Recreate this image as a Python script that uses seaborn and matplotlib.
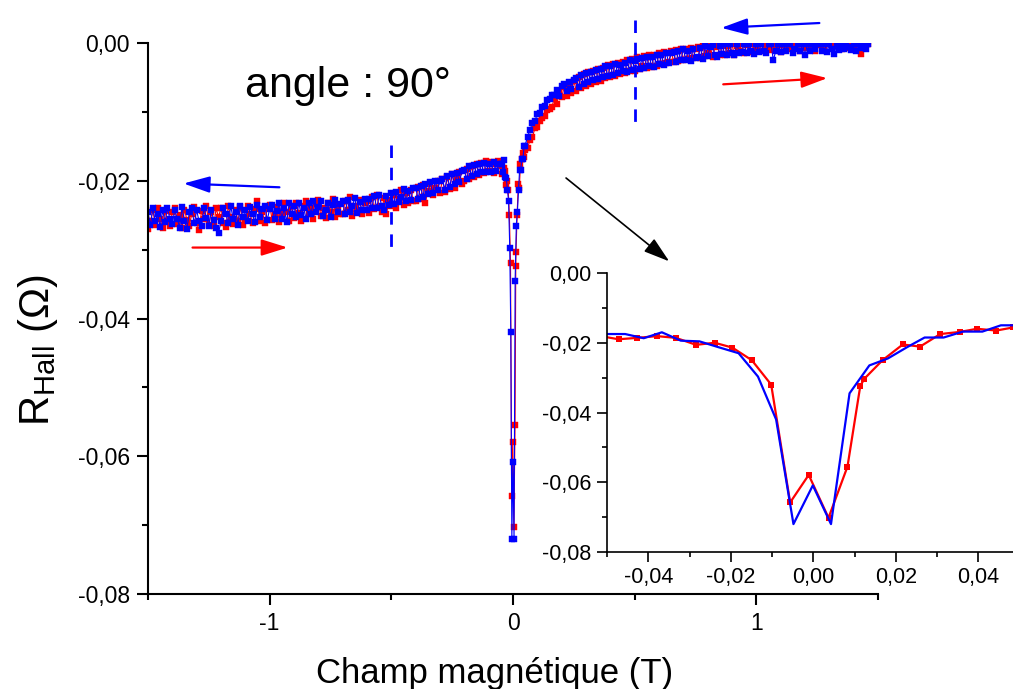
import numpy as np
import matplotlib
matplotlib.use("Agg")
import matplotlib.pyplot as plt
from matplotlib.ticker import MultipleLocator, FuncFormatter
import seaborn as sns

# ---------------- data (R_Hall in mOhm, field in T) ----------------
FIELD_STEP = 0.01
NEG_START = -1.50
POS_START = 0.06

red_neg = [
    -27.0, -25.9, -24.3, -26.4, -24.0, -25.6, -26.8, -24.4, -25.8, -26.6,
    -24.5, -23.9, -26.3, -25.0, -26.9, -24.2, -25.7, -26.5, -24.8, -23.8,
    -26.2, -27.1, -24.4, -25.6, -23.7, -26.4, -24.6, -26.6, -24.0, -25.3,
    -23.9, -26.1, -26.7, -23.6, -25.3, -26.3, -24.3, -25.8, -23.8, -26.4,
    -25.6, -23.6, -24.9, -26.2, -24.1, -22.9, -25.8, -24.5, -26.1, -23.9,
    -23.5, -25.7, -24.9, -23.8, -26.0, -24.8, -23.3, -24.6, -25.9, -23.7,
    -25.4, -23.3, -24.7, -25.8, -23.6, -22.9, -24.9, -24.0, -25.6, -23.4,
    -22.8, -25.1, -23.9, -25.4, -23.2, -24.5, -22.6, -25.2, -23.7, -24.8,
    -24.9, -22.9, -24.3, -22.3, -25.1, -23.6, -24.6, -22.8, -24.9, -23.3,
    -23.0, -24.7, -22.4, -24.1, -22.0, -23.8, -24.6, -22.5, -24.9, -22.8,
    -23.6, -22.0, -24.0, -22.6, -21.4, -23.5, -21.8, -23.2, -21.3, -22.9,
    -22.9, -20.9, -22.6, -20.6, -23.2, -21.5, -20.4, -22.1, -21.0, -20.0,
    -21.8, -19.8, -21.6, -19.5, -21.2, -19.0, -21.1, -19.6, -18.8, -20.5,
    -20.1, -18.3, -19.8, -17.9, -19.4, -17.6, -19.1, -17.4, -18.9, -17.2,
    -18.6, -17.3, -18.9, -17.6, -17.1,
]
blue_neg = [
    -24.6, -26.4, -24.0, -25.9, -24.8, -26.7, -24.3, -26.0, -23.9, -25.6,
    -26.3, -24.2, -25.5, -26.8, -23.8, -25.9, -27.0, -24.6, -24.0, -26.2,
    -24.3, -25.9, -26.6, -23.9, -25.4, -26.5, -24.2, -25.7, -26.8, -27.6,
    -25.8, -24.0, -24.8, -26.2, -23.7, -25.5, -24.5, -26.4, -23.6, -25.3,
    -24.3, -25.9, -23.8, -24.8, -26.0, -23.5, -25.2, -24.1, -23.7, -25.7,
    -24.1, -23.5, -25.6, -24.4, -23.3, -25.5, -24.0, -26.0, -23.2, -24.9,
    -23.7, -25.3, -23.2, -25.0, -24.0, -25.6, -23.3, -24.8, -22.9, -24.6,
    -23.8, -23.0, -25.1, -24.2, -23.2, -25.3, -23.5, -22.8, -24.6, -23.4,
    -23.0, -24.8, -22.8, -24.5, -23.6, -22.5, -24.7, -23.1, -24.3, -22.7,
    -24.3, -22.6, -23.9, -22.2, -24.0, -22.1, -23.6, -24.3, -22.2, -23.5,
    -21.8, -23.4, -21.6, -23.1, -22.3, -21.2, -22.9, -21.5, -22.8, -21.0,
    -21.0, -22.6, -20.8, -22.3, -20.5, -21.9, -20.2, -21.8, -20.1, -21.4,
    -20.0, -19.7, -21.3, -19.3, -20.9, -19.0, -20.5, -18.9, -20.2, -18.6,
    -18.4, -19.8, -17.9, -19.3, -17.7, -19.0, -17.5, -18.8, -17.4, -18.7,
    -17.5, -18.8, -17.3, -18.6, -17.6,
]
red_pos = [
    -15.2, -14.1, -13.6, -12.4, -12.2, -11.3, -10.9, -10.6, -9.8, -9.6,
    -9.3, -8.0, -8.9, -7.0, -7.9, -6.4, -7.7, -6.0, -7.3, -5.5,
    -6.9, -5.0, -6.5, -4.5, -6.2, -4.2, -5.9, -4.0, -5.6, -3.8,
    -5.5, -3.6, -5.1, -3.2, -5.0, -3.1, -4.8, -2.9, -4.5, -2.7,
    -4.4, -2.5, -4.1, -2.3, -4.0, -2.1, -3.8, -3.4, -1.9, -3.6,
    -1.8, -3.5, -1.7, -3.3, -1.4, -3.1, -1.3, -2.9, -2.8, -1.1,
    -2.8, -1.0, -2.6, -0.9, -2.5, -0.8, -2.3, -0.7, -2.2, -0.9,
    -0.6, -2.2, -0.5, -1.9, -1.4, -0.4, -2.0, -0.6, -0.3, -1.8,
    -0.3, -1.7, -0.5, -1.4, -0.2, -1.8, -0.4, -1.2, -0.1, -1.5,
    -0.3, -0.1, -1.3, -0.2, -1.0, -0.1, -1.2, -0.2, -0.9, -0.1,
    -1.0, -0.2, -0.8, -0.1, -1.3, -0.3, -0.1, -0.9, -0.1, -0.8,
    -0.2, -0.1, -1.1, -0.1, -0.7, -0.1, -0.8, -0.2, -1.2, -0.1,
    -0.3, -0.1, -0.8, -0.1, -0.1, -0.7, -0.1, -0.5, -0.1, -0.9,
    -0.2, -0.1, -0.7, -0.1, -0.5, -0.2, -0.1, -1.6, -0.1, -0.3,
    -0.1,
]
blue_pos = [
    -13.6, -12.6, -11.6, -11.3, -10.3, -10.1, -9.3, -9.2, -8.3, -8.2,
    -7.6, -7.5, -6.8, -7.7, -6.2, -6.0, -7.0, -5.6, -6.7, -5.3,
    -5.1, -6.4, -4.7, -5.9, -4.4, -5.6, -4.2, -5.4, -3.9, -5.2,
    -3.8, -5.0, -3.4, -4.8, -3.3, -4.6, -3.0, -4.3, -3.2, -4.0,
    -2.9, -4.2, -2.5, -3.9, -2.6, -2.3, -3.8, -2.2, -3.6, -2.1,
    -3.4, -2.0, -3.5, -1.7, -3.1, -1.8, -3.2, -1.4, -2.9, -1.5,
    -1.3, -2.8, -1.2, -2.5, -0.9, -2.4, -1.1, -2.6, -0.8, -2.2,
    -2.0, -0.7, -2.3, -0.5, -1.9, -0.6, -0.3, -1.8, -2.1, -0.4,
    -1.6, -0.2, -1.7, -0.1, -1.4, -1.8, -0.1, -1.5, -1.3, -0.2,
    -1.4, -0.1, -1.2, -1.6, -0.1, -1.3, -0.1, -1.1, -1.5, -0.1,
    -0.1, -2.5, -1.1, -0.1, -1.3, -0.1, -1.2, -0.2, -0.1, -1.4,
    -0.9, -0.1, -1.2, -0.1, -1.8, -0.1, -1.1, -0.1, -0.9, -0.1,
    -0.1, -1.1, -0.1, -1.3, -0.1, -0.9, -1.6, -0.1, -1.0, -0.1,
    -0.8, -0.1, -0.6, -1.0, -0.1, -1.1, -0.1, -0.7, -0.1, -0.9,
    -0.1,
]

# detailed low-field points (inset)
red_zoom_x = [-0.0525, -0.0472, -0.0427, -0.0379, -0.0333, -0.0284, -0.0239, -0.0196,
              -0.0149, -0.0102, -0.0056, -0.0011, 0.0037, 0.0083, 0.0114, 0.0124,
              0.0168, 0.0217, 0.0259, 0.0308, 0.0355, 0.0397, 0.0444, 0.0485]
red_zoom_y = [-17.9, -19.0, -18.6, -18.1, -18.6, -20.6, -20.0, -21.4,
              -25.0, -32.0, -65.8, -57.9, -70.2, -55.5, -32.4, -30.3,
              -25.0, -20.5, -21.1, -17.5, -16.9, -16.0, -16.5, -15.6]
blue_zoom_x = [-0.0500, -0.0456, -0.0411, -0.0367, -0.0321, -0.0276, -0.0229, -0.0181,
               -0.0134, -0.0090, -0.0048, -0.0001, 0.0043, 0.0088, 0.0136, 0.0181,
               0.0227, 0.0270, 0.0316, 0.0363, 0.0410, 0.0455, 0.0485]
blue_zoom_y = [-17.5, -17.5, -18.7, -17.0, -19.4, -19.6, -21.3, -23.0,
               -29.7, -42.0, -72.0, -60.9, -72.0, -34.5, -26.5, -24.5,
               -21.3, -18.5, -18.5, -16.8, -16.8, -15.0, -15.0]

# annotation positions (data coords of main axes): (tail, head)
arrow_blue_left = ((-0.96, -0.02095), (-1.354, -0.0204))
arrow_red_left = ((-1.317, -0.0297), (-0.926, -0.0297))
arrow_blue_right = ((1.259, 0.0029), (0.856, 0.0022))
arrow_red_right = ((0.864, -0.0060), (1.292, -0.0051))
arrow_black = ((0.218, -0.0196), (0.642, -0.0317))
dash_left = (-0.5, -0.0148, -0.0308)
dash_right = (0.5, 0.0033, -0.0122)

RED = "#ff0000"
BLUE = "#0000ff"

# ---------------- assemble ----------------
def sweep(start, n):
    return list(np.round(start + FIELD_STEP * np.arange(n), 4))

red_x = sweep(NEG_START, len(red_neg)) + red_zoom_x + sweep(POS_START, len(red_pos))
red_y = [v / 1000 for v in red_neg + red_zoom_y + red_pos]
blue_x = sweep(NEG_START, len(blue_neg)) + blue_zoom_x + sweep(POS_START, len(blue_pos))
blue_y = [v / 1000 for v in blue_neg + blue_zoom_y + blue_pos]

# ---------------- style ----------------
sns.set_style("ticks")
plt.rcParams["font.family"] = ["Liberation Sans", "DejaVu Sans"]
plt.rcParams["mathtext.fontset"] = "custom"
plt.rcParams["mathtext.rm"] = "Liberation Sans"
plt.rcParams["axes.linewidth"] = 1.5
for k in ("text.color", "axes.labelcolor", "xtick.color", "ytick.color", "axes.edgecolor"):
    plt.rcParams[k] = "black"

W, H = 1013, 689
fig = plt.figure(figsize=(W / 100, H / 100), dpi=100)
fig.patch.set_facecolor("white")

ax = fig.add_axes([148 / W, 1 - 594 / H, 730 / W, 551 / H])
ax.set_facecolor("none")

sns.lineplot(x=red_x, y=red_y, ax=ax, color=RED, marker="s", markersize=4,
             markeredgewidth=0.3, markeredgecolor=RED, linewidth=0.8,
             estimator=None, sort=False)
sns.lineplot(x=blue_x, y=blue_y, ax=ax, color=BLUE, marker="s", markersize=4,
             markeredgewidth=0.3, markeredgecolor=BLUE, linewidth=0.8,
             estimator=None, sort=False)

ax.set_xlim(-1.5, 1.5)
ax.set_ylim(-0.08, 0.0)
sns.despine(ax=ax)


def comma2(v, pos=None):
    if abs(v) < 1e-9:
        v = 0.0
    return f"{v:.2f}".replace(".", ",")


def int_fmt(v, pos=None):
    if abs(v) < 1e-9:
        v = 0.0
    return f"{v:.0f}"


ax.xaxis.set_major_locator(MultipleLocator(1))
ax.xaxis.set_minor_locator(MultipleLocator(0.5))
ax.yaxis.set_major_locator(MultipleLocator(0.02))
ax.yaxis.set_minor_locator(MultipleLocator(0.01))
ax.xaxis.set_major_formatter(FuncFormatter(int_fmt))
ax.yaxis.set_major_formatter(FuncFormatter(comma2))
ax.tick_params(which="major", direction="out", length=8, width=1.5, labelsize=16.5, pad=5)
ax.tick_params(which="minor", direction="out", length=4, width=1.5)
ax.set_xlabel("")
ax.set_ylabel("")

# dashed guides
for xd, y0, y1 in (dash_left, dash_right):
    ax.plot([xd, xd], [y0, y1], color=BLUE, lw=2, dashes=(4.5, 3.5), clip_on=False)

# arrows
def arrow(pair, color, lw=1.6):
    tail, head = pair
    ax.annotate("", xy=head, xytext=tail, xycoords="data", textcoords="data",
                annotation_clip=False,
                arrowprops=dict(arrowstyle="-|>,head_length=0.8,head_width=0.25",
                                color=color, lw=lw, mutation_scale=20,
                                shrinkA=0, shrinkB=0))

arrow(arrow_blue_left, BLUE)
arrow(arrow_red_left, RED)
arrow(arrow_blue_right, BLUE)
arrow(arrow_red_right, RED)
arrow(arrow_black, "black", lw=1.2)

# texts
fig.text(245 / W, 1 - 97 / H, "angle : 90°", fontsize=31, ha="left", va="baseline")
fig.text(495 / W, 6 / H, "Champ magnétique (T)", fontsize=25, ha="center", va="baseline")
fig.text(38 / W, 1 - 350 / H, r"R$_{\mathregular{Hall}}$ (Ω)", fontsize=30,
         rotation=90, ha="center", va="center")

# ---------------- inset ----------------
axi = fig.add_axes([607 / W, 1 - 552 / H, 412.5 / W, 279 / H])
axi.set_facecolor("white")
sns.lineplot(x=red_zoom_x, y=[v / 1000 for v in red_zoom_y], ax=axi, color=RED,
             marker="s", markersize=5, markeredgewidth=0, linewidth=1.6,
             estimator=None, sort=False)
sns.lineplot(x=blue_zoom_x, y=[v / 1000 for v in blue_zoom_y], ax=axi, color=BLUE,
             linewidth=1.6, estimator=None, sort=False)
axi.set_xlim(-0.05, 0.05)
axi.set_ylim(-0.08, 0.0)
sns.despine(ax=axi)
axi.xaxis.set_major_locator(MultipleLocator(0.02))
axi.xaxis.set_minor_locator(MultipleLocator(0.01))
axi.yaxis.set_major_locator(MultipleLocator(0.02))
axi.yaxis.set_minor_locator(MultipleLocator(0.01))
axi.xaxis.set_major_formatter(FuncFormatter(comma2))
axi.yaxis.set_major_formatter(FuncFormatter(comma2))
axi.tick_params(which="major", direction="out", length=7, width=1.2, labelsize=15.5, pad=4)
axi.tick_params(which="minor", direction="out", length=3.5, width=1.2)
for s in ("left", "bottom"):
    axi.spines[s].set_linewidth(1.2)
axi.set_xlabel("")
axi.set_ylabel("")

fig.savefig("out.png", dpi=100)
